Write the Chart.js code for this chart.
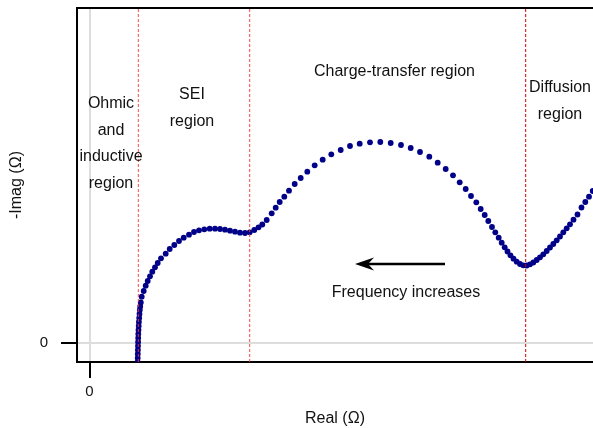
<!DOCTYPE html>
<html>
<head>
<meta charset="utf-8">
<script src="https://cdn.jsdelivr.net/npm/chart.js@4.4.1/dist/chart.umd.min.js"></script>
<style>
  body { margin: 0; background: #fff; }
  canvas { display: block; }
</style>
</head>
<body>
<canvas id="nyquist" width="593" height="428"></canvas>
<script>
// impedance points (arbitrary ohm units)
const realPart = [
  4.81, 4.81, 4.82, 4.83, 4.84, 4.85, 4.86, 4.87, 4.88, 4.90, 4.92, 4.94, 4.97, 5.00, 5.03, 5.07, 5.13,
  5.22, 5.42, 5.62, 5.82, 6.05, 6.28, 6.55, 6.82, 7.15, 7.62, 8.02, 8.48, 8.95, 9.42, 9.95, 10.45,
  10.95, 11.48, 12.02, 12.55, 13.05, 13.55, 14.05, 14.55, 15.05, 15.55, 16.02, 16.48, 16.90, 17.28,
  17.72, 18.22, 18.62, 19.02, 19.48, 19.95, 20.52, 21.12, 21.78, 22.52, 23.32, 24.18, 25.12, 26.05,
  27.02, 28.05, 29.08, 30.12, 31.15, 32.12, 33.05, 33.98, 34.82, 35.62, 36.35, 37.02, 37.62, 38.15,
  38.68, 39.12, 39.52, 39.88, 40.25, 40.58, 40.92, 41.22, 41.52, 41.80, 42.10, 42.40, 42.72, 43.05,
  43.38, 43.72, 44.05, 44.38, 44.72, 45.05, 45.38, 45.72, 46.05, 46.38, 46.72, 47.05, 47.38, 47.72,
  48.05, 48.40, 48.80, 49.20, 49.58, 49.95, 50.32
];
const imagPart = [
  -2.30, -1.90, -1.50, -1.10, -0.70, -0.30, 0.10, 0.50, 0.90, 1.30, 1.70, 2.10, 2.50, 2.90, 3.30, 3.65, 4.05,
  4.63, 5.20, 5.73, 6.20, 6.67, 7.13, 7.57, 8.00, 8.47, 8.93, 9.40, 9.80, 10.20, 10.53, 10.83, 11.10,
  11.27, 11.37, 11.43, 11.43, 11.40, 11.33, 11.23, 11.13, 11.03, 11.00, 11.07, 11.30, 11.57, 11.85,
  12.30, 12.97, 13.53, 14.10, 14.63, 15.23, 15.90, 16.50, 17.13, 17.77, 18.33, 18.87, 19.30, 19.70,
  19.93, 20.07, 20.10, 20.00, 19.80, 19.50, 19.10, 18.63, 18.03, 17.40, 16.77, 16.07, 15.40, 14.70,
  14.07, 13.40, 12.80, 12.20, 11.60, 11.07, 10.53, 10.03, 9.57, 9.15, 8.77, 8.43, 8.13, 7.90,
  7.77, 7.75, 7.87, 8.05, 8.30, 8.57, 8.87, 9.20, 9.55, 9.90, 10.27, 10.65, 11.07, 11.47,
  11.87, 12.33, 12.85, 13.55, 14.10, 14.63, 15.20
];

// real-axis positions where the regions change
const boundaries = [4.88, 16.02, 43.62];
const boundaryColors = ["rgba(255, 50, 50, 0.9)", "rgba(255, 50, 50, 0.9)", "#d10000"];

const xTicks = [0];
const yTicks = [0];

const xMin = -1.25, xMax = 50.35;
const yMin = -1.9, yMax = 33.5;

const regionNotes = [
  { lines: ["Ohmic", "and", "inductive", "region"], x: 2.15, y: 23.9 },
  { lines: ["SEI", "region"], x: 10.25, y: 24.8 },
  { lines: ["Charge-transfer region"], x: 30.5, y: 27.13 },
  { lines: ["Diffusion", "region"], x: 47.05, y: 25.5 },
  { lines: ["Frequency increases"], x: 31.65, y: 5.03 },
];
const arrowFrom = { x: 35.55, y: 7.9 };
const arrowTo = { x: 26.55, y: 7.9 };

const font = "Liberation Sans, Arial, Helvetica, sans-serif";

const datasets = boundaries.map((b, i) => ({
  type: "line",
  data: [{ x: b, y: yMin }, { x: b, y: yMax }],
  borderColor: boundaryColors[i],
  borderWidth: 1,
  borderDash: [3, 2],
  pointRadius: 0,
  showLine: true,
  order: 0,
}));

datasets.push({
  data: realPart.map((r, i) => ({ x: r, y: imagPart[i] })),
  pointRadius: 2.9,
  pointBorderWidth: 0,
  pointBackgroundColor: "#000088",
  showLine: false,
  clip: 0,
  order: 1,
});

// keep the plot area flush with the fixed axis boxes
function fixBox(s, size) {
  if (s.isHorizontal()) s.height = size;
  else s.width = size;
  s.paddingTop = 0;
  s.paddingBottom = 0;
  s.paddingLeft = 0;
  s.paddingRight = 0;
}

const extras = {
  id: "extras",
  afterDraw(chart) {
    const ctx = chart.ctx;
    const xs = chart.scales.x;
    const ys = chart.scales.y;
    const area = chart.chartArea;

    ctx.save();
    // top edge of the frame
    ctx.strokeStyle = "#000";
    ctx.lineWidth = 2;
    ctx.beginPath();
    ctx.moveTo(area.left - 1, area.top);
    ctx.lineTo(area.right, area.top);
    ctx.stroke();

    // region notes
    ctx.fillStyle = "#111";
    ctx.font = "16px " + font;
    ctx.textAlign = "center";
    ctx.textBaseline = "middle";
    regionNotes.forEach((n) => {
      const px = xs.getPixelForValue(n.x);
      const py = ys.getPixelForValue(n.y);
      n.lines.forEach((line, k) => ctx.fillText(line, px, py + k * 26.5));
    });

    // frequency arrow
    const x1 = xs.getPixelForValue(arrowFrom.x);
    const x2 = xs.getPixelForValue(arrowTo.x);
    const y = ys.getPixelForValue(arrowTo.y);
    ctx.strokeStyle = "#000";
    ctx.lineWidth = 2.5;
    ctx.beginPath();
    ctx.moveTo(x1, y);
    ctx.lineTo(x2 + 10, y);
    ctx.stroke();
    ctx.fillStyle = "#000";
    ctx.beginPath();
    ctx.moveTo(x2, y);
    ctx.lineTo(x2 + 19, y - 6.5);
    ctx.lineTo(x2 + 13, y);
    ctx.lineTo(x2 + 19, y + 6.5);
    ctx.closePath();
    ctx.fill();
    ctx.restore();
  },
};

new Chart(document.getElementById("nyquist"), {
  type: "scatter",
  data: { datasets: datasets },
  options: {
    responsive: false,
    animation: false,
    layout: { autoPadding: false, padding: { top: 8, right: 0, left: 0, bottom: 0 } },
    plugins: {
      legend: { display: false },
      tooltip: { enabled: false },
    },
    scales: {
      x: {
        type: "linear",
        min: xMin,
        max: xMax,
        afterBuildTicks: (s) => { s.ticks = xTicks.map((v) => ({ value: v })); },
        afterFit: (s) => fixBox(s, 66),
        border: { display: true, color: "#000", width: 2 },
        grid: {
          color: "#dddddd",
          lineWidth: 2,
          tickColor: "#000",
          tickWidth: 2,
          tickLength: 16,
        },
        ticks: { color: "#111", font: { family: font, size: 15 }, padding: 5 },
        title: {
          display: true,
          text: "Real (Ω)",
          color: "#111",
          font: { family: font, size: 16 },
          padding: { top: 0, bottom: 0 },
        },
      },
      y: {
        type: "linear",
        min: yMin,
        max: yMax,
        afterBuildTicks: (s) => { s.ticks = yTicks.map((v) => ({ value: v })); },
        afterFit: (s) => fixBox(s, 77),
        border: { display: true, color: "#000", width: 2 },
        grid: {
          color: "#dddddd",
          lineWidth: 2,
          tickColor: "#000",
          tickWidth: 2,
          tickLength: 16,
        },
        ticks: { color: "#111", font: { family: font, size: 15 }, padding: 13 },
        title: {
          display: true,
          text: "-Imag (Ω)",
          color: "#111",
          font: { family: font, size: 16 },
          padding: { top: 7, bottom: 0 },
        },
      },
    },
  },
  plugins: [extras],
});
</script>
</body>
</html>
